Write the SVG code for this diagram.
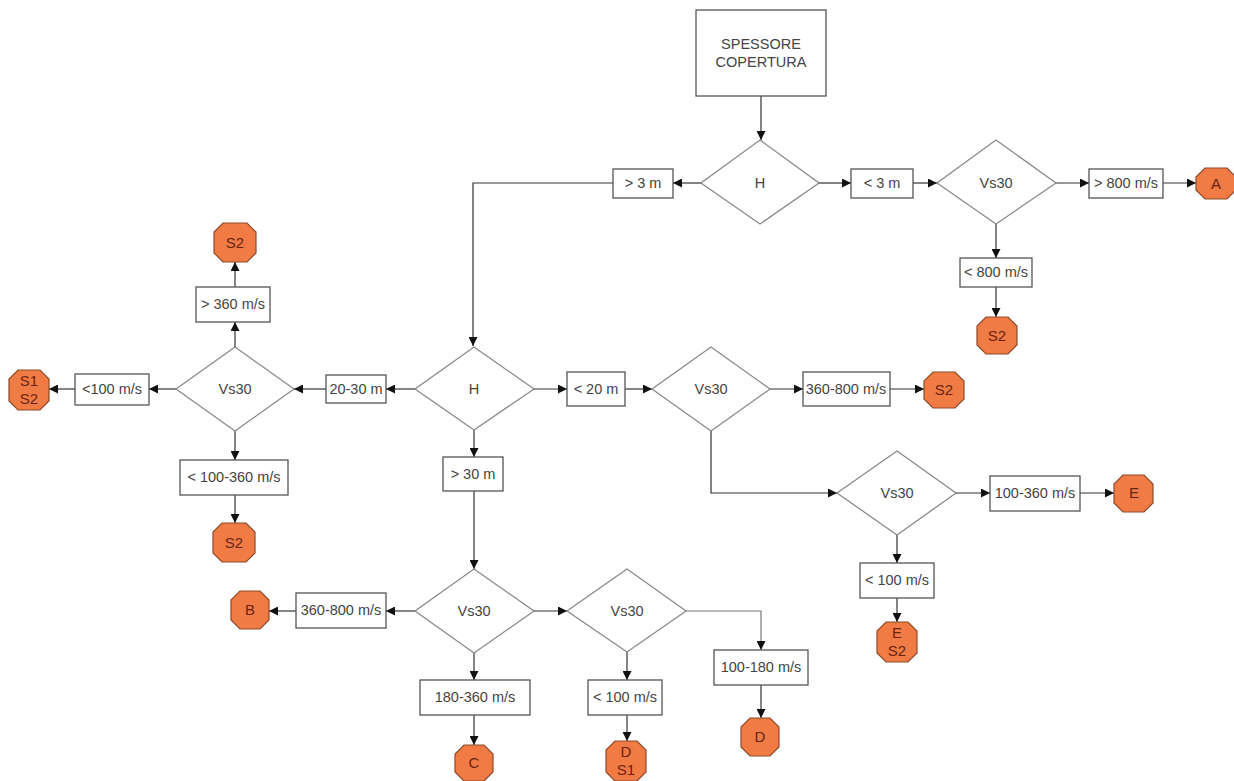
<svg xmlns="http://www.w3.org/2000/svg" width="1234" height="781" viewBox="0 0 1234 781">
<style>
.box{fill:#fff;stroke:#555;stroke-width:1.3}
.dia{fill:#fff;stroke:#8a8a8a;stroke-width:1.3}
.oct{fill:#f07b45;stroke:#8c4a2a;stroke-width:1.2}
.t{font-family:"Liberation Sans",Arial,sans-serif;font-size:14.5px;fill:#444;text-anchor:middle}
.ot{font-family:"Liberation Sans",Arial,sans-serif;font-size:15px;fill:#6b2410;text-anchor:middle}
.c{fill:none;stroke:#333;stroke-width:1.2}
</style>
<defs>
<marker id="ah" viewBox="0 0 10 10" refX="10" refY="5" markerWidth="9" markerHeight="9" markerUnits="userSpaceOnUse" orient="auto">
<path d="M0,0 L10,5 L0,10 z" fill="#111"/>
</marker>
</defs>
<rect width="1234" height="781" fill="#fff"/>

<g id="connectors">
<path class="c" d="M761,96 V140" marker-end="url(#ah)"/>
<path class="c" d="M701,183 H673" marker-end="url(#ah)"/>
<path class="c" d="M613,183 H473 V346" marker-end="url(#ah)"/>
<path class="c" d="M819,183 H851" marker-end="url(#ah)"/>
<path class="c" d="M913,183 H937" marker-end="url(#ah)"/>
<path class="c" d="M1056,183 H1089" marker-end="url(#ah)"/>
<path class="c" d="M1163,183 H1196" marker-end="url(#ah)"/>
<path class="c" d="M996,222 V258" marker-end="url(#ah)"/>
<path class="c" d="M996,287 V317" marker-end="url(#ah)"/>

<path class="c" d="M415,389 H386" marker-end="url(#ah)"/>
<path class="c" d="M326,389 H294" marker-end="url(#ah)"/>
<path class="c" d="M176,389 H149" marker-end="url(#ah)"/>
<path class="c" d="M75,389 H49" marker-end="url(#ah)"/>
<path class="c" d="M235,347 V322" marker-end="url(#ah)"/>
<path class="c" d="M235,287 V262" marker-end="url(#ah)"/>
<path class="c" d="M235,431 V460" marker-end="url(#ah)"/>
<path class="c" d="M235,495 V523" marker-end="url(#ah)"/>

<path class="c" d="M534,389 H567" marker-end="url(#ah)"/>
<path class="c" d="M625,389 H652" marker-end="url(#ah)"/>
<path class="c" d="M770,389 H803" marker-end="url(#ah)"/>
<path class="c" d="M890,389 H924" marker-end="url(#ah)"/>
<path class="c" d="M711,431 V493 H837" marker-end="url(#ah)"/>
<path class="c" d="M956,493 H990" marker-end="url(#ah)"/>
<path class="c" d="M1080,493 H1114" marker-end="url(#ah)"/>
<path class="c" d="M897,535 V563" marker-end="url(#ah)"/>
<path class="c" d="M897,598 V622" marker-end="url(#ah)"/>

<path class="c" d="M474,430 V457" marker-end="url(#ah)"/>
<path class="c" d="M474,491 V569" marker-end="url(#ah)"/>
<path class="c" d="M415,611 H386" marker-end="url(#ah)"/>
<path class="c" d="M296,611 H269" marker-end="url(#ah)"/>
<path class="c" d="M474,653 V680" marker-end="url(#ah)"/>
<path class="c" d="M474,715 V745" marker-end="url(#ah)"/>
<path class="c" d="M534,611 H567" marker-end="url(#ah)"/>
<path class="c" d="M627,652 V680" marker-end="url(#ah)"/>
<path class="c" d="M627,715 V741" marker-end="url(#ah)"/>
<path class="c" d="M686,611 H761 V650" marker-end="url(#ah)" style="stroke:#777"/>
<path class="c" d="M761,685 V718" marker-end="url(#ah)"/>
</g>

<g id="start"><rect class="box" x="696" y="10" width="130" height="86"/><text class="t" x="761" y="49">SPESSORE</text><text class="t" x="761" y="67">COPERTURA</text></g>

<g id="h1"><polygon class="dia" points="760,140 819,183 760,224 701,183"/><text class="t" x="760" y="188">H</text></g>
<g id="gt3m"><rect class="box" x="613" y="169" width="60" height="29"/><text class="t" x="643" y="188">&gt; 3 m</text></g>
<g id="lt3m"><rect class="box" x="851" y="169" width="62" height="29"/><text class="t" x="882" y="188">&lt; 3 m</text></g>
<g id="vs30a"><polygon class="dia" points="996,140 1056,183 996,224 937,183"/><text class="t" x="996" y="188">Vs30</text></g>
<g id="gt800"><rect class="box" x="1089" y="169" width="74" height="29"/><text class="t" x="1126" y="188">&gt; 800 m/s</text></g>
<g id="A"><polygon class="oct" points="1205,168 1227,168 1236,177 1236,190 1227,199 1205,199 1196,190 1196,177"/><text class="ot" x="1216" y="189">A</text></g>
<g id="lt800"><rect class="box" x="960" y="258" width="72" height="29"/><text class="t" x="996" y="277">&lt; 800 m/s</text></g>
<g id="S2a"><polygon class="oct" points="986,317 1008,317 1017,326 1017,345 1008,354 986,354 977,345 977,326"/><text class="ot" x="997" y="341">S2</text></g>

<g id="h2"><polygon class="dia" points="474,347 534,389 474,430 415,389"/><text class="t" x="474" y="394">H</text></g>
<g id="m2030"><rect class="box" x="326" y="375" width="60" height="28"/><text class="t" x="356" y="394">20-30 m</text></g>
<g id="vs30l"><polygon class="dia" points="235,347 294,389 235,431 176,389"/><text class="t" x="235" y="394">Vs30</text></g>
<g id="lt100l"><rect class="box" x="75" y="374" width="74" height="31"/><text class="t" x="112" y="394">&lt;100 m/s</text></g>
<g id="S1S2"><polygon class="oct" points="18,370 40,370 49,379 49,401 40,410 18,410 9,401 9,379"/><text class="ot" x="29" y="386">S1</text><text class="ot" x="29" y="404">S2</text></g>
<g id="gt360"><rect class="box" x="196" y="287" width="74" height="35"/><text class="t" x="233" y="309">&gt; 360 m/s</text></g>
<g id="S2b"><polygon class="oct" points="223,223 247,223 256,232 256,253 247,262 223,262 214,253 214,232"/><text class="ot" x="235" y="248">S2</text></g>
<g id="lt100360"><rect class="box" x="180" y="460" width="108" height="35"/><text class="t" x="234" y="482">&lt; 100-360 m/s</text></g>
<g id="S2c"><polygon class="oct" points="222,523 246,523 255,532 255,553 246,562 222,562 213,553 213,532"/><text class="ot" x="234" y="548">S2</text></g>

<g id="lt20"><rect class="box" x="567" y="372" width="58" height="34"/><text class="t" x="596" y="394">&lt; 20 m</text></g>
<g id="vs30m"><polygon class="dia" points="711,347 770,389 711,431 652,389"/><text class="t" x="711" y="394">Vs30</text></g>
<g id="r360800a"><rect class="box" x="803" y="372" width="87" height="34"/><text class="t" x="846" y="394">360-800 m/s</text></g>
<g id="S2d"><polygon class="oct" points="933,372 955,372 964,381 964,399 955,408 933,408 924,399 924,381"/><text class="ot" x="944" y="395">S2</text></g>
<g id="vs30r"><polygon class="dia" points="897,451 956,493 897,535 837,493"/><text class="t" x="897" y="498">Vs30</text></g>
<g id="r100360"><rect class="box" x="990" y="476" width="90" height="35"/><text class="t" x="1035" y="498">100-360 m/s</text></g>
<g id="E"><polygon class="oct" points="1123,475 1144,475 1153,484 1153,503 1144,512 1123,512 1114,503 1114,484"/><text class="ot" x="1134" y="498">E</text></g>
<g id="lt100r"><rect class="box" x="860" y="563" width="74" height="35"/><text class="t" x="897" y="585">&lt; 100 m/s</text></g>
<g id="ES2"><polygon class="oct" points="886,622 908,622 917,631 917,653 908,662 886,662 877,653 877,631"/><text class="ot" x="897" y="638">E</text><text class="ot" x="897" y="656">S2</text></g>

<g id="gt30"><rect class="box" x="443" y="457" width="60" height="34"/><text class="t" x="473" y="479">&gt; 30 m</text></g>
<g id="vs30bl"><polygon class="dia" points="474,569 534,611 474,653 415,611"/><text class="t" x="474" y="616">Vs30</text></g>
<g id="r360800b"><rect class="box" x="296" y="593" width="90" height="35"/><text class="t" x="341" y="615">360-800 m/s</text></g>
<g id="B"><polygon class="oct" points="240,591 260,591 269,600 269,620 260,629 240,629 231,620 231,600"/><text class="ot" x="250" y="615">B</text></g>
<g id="r180360"><rect class="box" x="420" y="680" width="110" height="35"/><text class="t" x="475" y="702">180-360 m/s</text></g>
<g id="C"><polygon class="oct" points="464,745 484,745 493,754 493,772 484,781 464,781 455,772 455,754"/><text class="ot" x="474" y="768">C</text></g>
<g id="vs30br"><polygon class="dia" points="627,569 686,611 627,652 567,611"/><text class="t" x="627" y="616">Vs30</text></g>
<g id="lt100b"><rect class="box" x="588" y="680" width="74" height="35"/><text class="t" x="625" y="702">&lt; 100 m/s</text></g>
<g id="DS1"><polygon class="oct" points="615,741 637,741 646,750 646,772 637,781 615,781 606,772 606,750"/><text class="ot" x="626" y="757">D</text><text class="ot" x="626" y="775">S1</text></g>
<g id="r100180"><rect class="box" x="714" y="650" width="94" height="35"/><text class="t" x="761" y="672">100-180 m/s</text></g>
<g id="D"><polygon class="oct" points="750,718 770,718 779,727 779,747 770,756 750,756 741,747 741,727"/><text class="ot" x="760" y="742">D</text></g>
</svg>
